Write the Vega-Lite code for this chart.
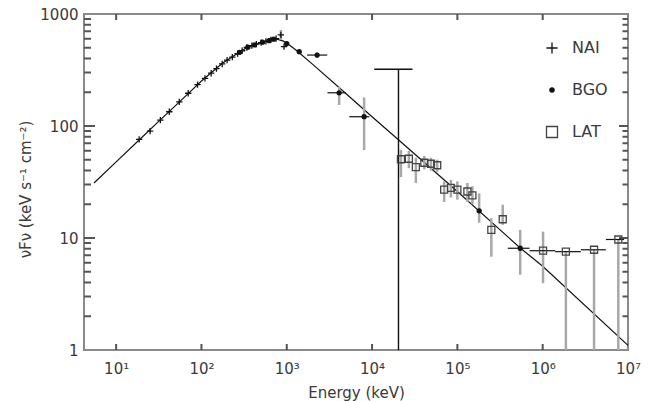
{
  "$schema": "https://vega.github.io/schema/vega-lite/v6.json",
  "width": 544,
  "height": 336,
  "autosize": {"type": "none"},
  "padding": {"left": 84, "top": 14, "right": 21, "bottom": 51},
  "config": {
    "font": "DejaVu Sans",
    "view": {"stroke": "#8a8a8a", "strokeWidth": 2},
    "axis": {"domain": false, "grid": false, "ticks": false, "labelColor": "#3a3a3a", "titleColor": "#3a3a3a", "titleFontWeight": "normal", "labelFlush": false, "labelOverlap": false},
    "legend": {"symbolSize": 121, "symbolStrokeWidth": 1.3}
  },
  "datasets": {
    "band": [
      {"E": 5.5, "F": 31}, {"E": 10, "F": 47.8}, {"E": 18.6, "F": 75}, {"E": 30, "F": 106},
      {"E": 50, "F": 153}, {"E": 75, "F": 205}, {"E": 100, "F": 252}, {"E": 176, "F": 363},
      {"E": 250, "F": 432}, {"E": 331, "F": 494}, {"E": 450, "F": 540}, {"E": 622, "F": 586},
      {"E": 750, "F": 598}, {"E": 900, "F": 575}, {"E": 1000, "F": 550}, {"E": 1280, "F": 477},
      {"E": 2000, "F": 357}, {"E": 5000, "F": 193}, {"E": 10000, "F": 121}, {"E": 19000, "F": 79},
      {"E": 100000, "F": 26}, {"E": 550000, "F": 8.1}, {"E": 1000000, "F": 5.6}, {"E": 10000000, "F": 1.1}
    ],
    "pts": [
      {"det": "NAI", "E": 18.6, "F": 76}, {"det": "NAI", "E": 25, "F": 90}, {"det": "NAI", "E": 33, "F": 113},
      {"det": "NAI", "E": 42, "F": 134}, {"det": "NAI", "E": 55, "F": 164}, {"det": "NAI", "E": 70, "F": 196},
      {"det": "NAI", "E": 90, "F": 234}, {"det": "NAI", "E": 110, "F": 266}, {"det": "NAI", "E": 130, "F": 296},
      {"det": "NAI", "E": 150, "F": 325}, {"det": "NAI", "E": 175, "F": 358}, {"det": "NAI", "E": 200, "F": 388},
      {"det": "NAI", "E": 230, "F": 412}, {"det": "NAI", "E": 265, "F": 443}, {"det": "NAI", "E": 300, "F": 470},
      {"det": "NAI", "E": 340, "F": 502}, {"det": "NAI", "E": 390, "F": 522}, {"det": "NAI", "E": 440, "F": 538},
      {"det": "NAI", "E": 500, "F": 556}, {"det": "NAI", "E": 570, "F": 570}, {"det": "NAI", "E": 650, "F": 588},
      {"det": "NAI", "E": 750, "F": 602}, {"det": "NAI", "E": 853, "F": 650, "Flo": 586, "Fhi": 720},
      {"det": "NAI", "E": 930, "F": 511},
      {"det": "BGO", "E": 280, "F": 455}, {"det": "BGO", "E": 350, "F": 505}, {"det": "BGO", "E": 420, "F": 530},
      {"det": "BGO", "E": 520, "F": 560}, {"det": "BGO", "E": 620, "F": 578}, {"det": "BGO", "E": 700, "F": 596},
      {"det": "BGO", "E": 1000, "F": 545}, {"det": "BGO", "E": 1400, "F": 461},
      {"det": "BGO", "E": 2270, "F": 430, "Elo": 1730, "Ehi": 2980, "Flo": 405, "Fhi": 455},
      {"det": "BGO", "E": 4110, "F": 198, "Elo": 3000, "Ehi": 4900, "Flo": 154, "Fhi": 224},
      {"det": "BGO", "E": 8070, "F": 121, "Elo": 5400, "Ehi": 9300, "Flo": 61, "Fhi": 180},
      {"det": "BGO", "E": 180000, "F": 17.5, "Flo": 13.7, "Fhi": 25},
      {"det": "BGO", "E": 545000, "F": 8.1, "Elo": 390000, "Ehi": 700000, "Flo": 4.7, "Fhi": 11.8},
      {"det": "LAT", "E": 21800, "F": 50.5, "Flo": 35, "Fhi": 61},
      {"det": "LAT", "E": 27000, "F": 51, "Flo": 42, "Fhi": 60},
      {"det": "LAT", "E": 32600, "F": 43, "Flo": 31, "Fhi": 52},
      {"det": "LAT", "E": 41000, "F": 47, "Flo": 41, "Fhi": 54},
      {"det": "LAT", "E": 49000, "F": 46, "Flo": 40, "Fhi": 52},
      {"det": "LAT", "E": 58000, "F": 44.6, "Flo": 39, "Fhi": 50},
      {"det": "LAT", "E": 70000, "F": 27, "Flo": 21, "Fhi": 32},
      {"det": "LAT", "E": 84000, "F": 28, "Flo": 23, "Fhi": 33},
      {"det": "LAT", "E": 100000, "F": 27, "Flo": 22, "Fhi": 32},
      {"det": "LAT", "E": 131000, "F": 26, "Flo": 21, "Fhi": 31},
      {"det": "LAT", "E": 150000, "F": 24, "Flo": 20, "Fhi": 29},
      {"det": "LAT", "E": 250000, "F": 11.8, "Flo": 6.8, "Fhi": 15},
      {"det": "LAT", "E": 340000, "F": 14.7, "Flo": 13.1, "Fhi": 19.8},
      {"det": "LAT", "E": 1010000, "F": 7.7, "Elo": 700000, "Ehi": 1400000, "Flo": 3.95, "Fhi": 11.4},
      {"det": "LAT", "E": 1870000, "F": 7.55, "Elo": 1400000, "Ehi": 2800000, "Flo": 1, "Fhi": 7.55},
      {"det": "LAT", "E": 4000000, "F": 7.85, "Elo": 2800000, "Ehi": 5500000, "Flo": 1, "Fhi": 7.85},
      {"det": "LAT", "E": 7700000, "F": 9.7, "Elo": 5500000, "Ehi": 9000000, "Flo": 1, "Fhi": 9.7}
    ],
    "limit": [
      {"E": 20400, "F": 321, "Elo": 10600, "Ehi": 29800, "Flo": 1}
    ],
    "yticks": [
      {"v": 10, "kind": "major"}, {"v": 100, "kind": "major"},
      {"v": 2, "kind": "minor"}, {"v": 3, "kind": "minor"}, {"v": 4, "kind": "minor"}, {"v": 5, "kind": "minor"},
      {"v": 6, "kind": "minor"}, {"v": 7, "kind": "minor"}, {"v": 8, "kind": "minor"}, {"v": 9, "kind": "minor"},
      {"v": 20, "kind": "minor"}, {"v": 30, "kind": "minor"}, {"v": 40, "kind": "minor"}, {"v": 50, "kind": "minor"},
      {"v": 60, "kind": "minor"}, {"v": 70, "kind": "minor"}, {"v": 80, "kind": "minor"}, {"v": 90, "kind": "minor"},
      {"v": 200, "kind": "minor"}, {"v": 300, "kind": "minor"}, {"v": 400, "kind": "minor"}, {"v": 500, "kind": "minor"},
      {"v": 600, "kind": "minor"}, {"v": 700, "kind": "minor"}, {"v": 800, "kind": "minor"}, {"v": 900, "kind": "minor"}
    ],
    "xticks": [
      {"v": 10}, {"v": 100}, {"v": 1000}, {"v": 10000}, {"v": 100000}, {"v": 1000000}
    ]
  },
  "resolve": {"axis": {"x": "independent", "y": "independent"}},
  "layer": [
    {
      "data": {"name": "yticks"},
      "transform": [{"filter": "datum.kind === 'major'"}],
      "mark": {"type": "rule", "color": "#555", "strokeWidth": 2, "strokeDash": [9, 524, 11, 0]},
      "encoding": {
        "y": {"field": "v", "type": "quantitative", "scale": {"type": "log", "domain": [1, 1000]}, "axis": null}
      }
    },
    {
      "data": {"name": "yticks"},
      "transform": [{"filter": "datum.kind === 'minor'"}],
      "mark": {"type": "rule", "color": "#555", "strokeWidth": 2, "strokeDash": [5.5, 531.5, 7, 0]},
      "encoding": {
        "y": {"field": "v", "type": "quantitative", "scale": {"type": "log", "domain": [1, 1000]}, "axis": null}
      }
    },
    {
      "data": {"name": "xticks"},
      "mark": {"type": "rule", "color": "#555", "strokeWidth": 2, "strokeDash": [6, 324, 6, 0]},
      "encoding": {
        "x": {"field": "v", "type": "quantitative", "scale": {"type": "log", "domain": [4.2, 10000000]}, "axis": null}
      }
    },
    {
      "data": {"name": "band"},
      "mark": {"type": "line", "color": "#111", "strokeWidth": 1.2},
      "encoding": {
        "x": {
          "field": "E", "type": "quantitative",
          "scale": {"type": "log", "domain": [4.2, 10000000]},
          "axis": {
            "orient": "bottom", "values": [10, 100, 1000, 10000, 100000, 1000000, 10000000],
            "labelExpr": "'10' + ['¹','²','³','⁴','⁵','⁶','⁷'][round(log(datum.value)/LN10)-1]",
            "labelFontSize": 15, "labelPadding": 11,
            "title": "Energy (keV)", "titleFontSize": 15, "titleBaseline": "middle", "titleY": 42
          }
        },
        "y": {
          "field": "F", "type": "quantitative",
          "scale": {"type": "log", "domain": [1, 1000]},
          "axis": {
            "orient": "left", "values": [1, 10, 100, 1000],
            "labelExpr": "format(datum.value, 'd')",
            "labelFontSize": 15, "labelPadding": 6,
            "title": "νFν (keV s⁻¹ cm⁻²)", "titleFontSize": 15, "titleAngle": -90,
            "titleBaseline": "middle", "titleAlign": "center", "titleX": -59, "titleY": 175
          }
        }
      }
    },
    {
      "data": {"name": "pts"},
      "transform": [{"filter": "isValid(datum.Flo)"}],
      "mark": {"type": "rule", "color": "#a8a8a8", "strokeWidth": 2.5},
      "encoding": {
        "x": {"field": "E", "type": "quantitative", "scale": {"type": "log", "domain": [4.2, 10000000]}, "axis": null},
        "y": {"field": "Flo", "type": "quantitative", "scale": {"type": "log", "domain": [1, 1000]}, "axis": null},
        "y2": {"field": "Fhi"}
      }
    },
    {
      "data": {"name": "pts"},
      "transform": [{"filter": "isValid(datum.Elo)"}],
      "mark": {"type": "rule", "color": "#111", "strokeWidth": 1.2},
      "encoding": {
        "x": {"field": "Elo", "type": "quantitative", "scale": {"type": "log", "domain": [4.2, 10000000]}, "axis": null},
        "x2": {"field": "Ehi"},
        "y": {"field": "F", "type": "quantitative", "scale": {"type": "log", "domain": [1, 1000]}, "axis": null}
      }
    },
    {
      "data": {"name": "limit"},
      "mark": {"type": "rule", "color": "#111", "strokeWidth": 1.4},
      "encoding": {
        "x": {"field": "Elo", "type": "quantitative", "scale": {"type": "log", "domain": [4.2, 10000000]}, "axis": null},
        "x2": {"field": "Ehi"},
        "y": {"field": "F", "type": "quantitative", "scale": {"type": "log", "domain": [1, 1000]}, "axis": null}
      }
    },
    {
      "data": {"name": "limit"},
      "mark": {"type": "rule", "color": "#111", "strokeWidth": 1.4},
      "encoding": {
        "x": {"field": "E", "type": "quantitative", "scale": {"type": "log", "domain": [4.2, 10000000]}, "axis": null},
        "y": {"field": "Flo", "type": "quantitative", "scale": {"type": "log", "domain": [1, 1000]}, "axis": null},
        "y2": {"field": "F"}
      }
    },
    {
      "data": {"name": "pts"},
      "transform": [{"filter": "datum.det === 'NAI'"}],
      "mark": {"type": "point", "strokeWidth": 1.3, "opacity": 1, "size": 40},
      "encoding": {
        "x": {"field": "E", "type": "quantitative", "scale": {"type": "log", "domain": [4.2, 10000000]}, "axis": null},
        "y": {"field": "F", "type": "quantitative", "scale": {"type": "log", "domain": [1, 1000]}, "axis": null},
        "shape": {
          "field": "det", "type": "nominal",
          "scale": {"domain": ["NAI", "BGO", "LAT"], "range": ["M-1,0H1M0,-1V1", "M-0.38,0A0.38,0.38 0 1,0 0.38,0A0.38,0.38 0 1,0 -0.38,0Z", "square"]},
          "legend": {
            "orient": "none", "legendX": 460, "legendY": 26, "title": null, "padding": 0,
            "labelFontSize": 16, "labelColor": "#3a3a3a", "labelOffset": 12, "rowPadding": 25
          }
        },
        "fill": {"field": "det", "type": "nominal", "scale": {"domain": ["NAI", "BGO", "LAT"], "range": ["transparent", "#111", "transparent"]}},
        "stroke": {"field": "det", "type": "nominal", "scale": {"domain": ["NAI", "BGO", "LAT"], "range": ["#111", "#111", "#444"]}}
      }
    },
    {
      "data": {"name": "pts"},
      "transform": [{"filter": "datum.det === 'BGO'"}],
      "mark": {"type": "point", "strokeWidth": 1.3, "opacity": 1, "size": 110},
      "encoding": {
        "x": {"field": "E", "type": "quantitative", "scale": {"type": "log", "domain": [4.2, 10000000]}, "axis": null},
        "y": {"field": "F", "type": "quantitative", "scale": {"type": "log", "domain": [1, 1000]}, "axis": null},
        "shape": {"field": "det", "type": "nominal"},
        "fill": {"field": "det", "type": "nominal"},
        "stroke": {"field": "det", "type": "nominal"}
      }
    },
    {
      "data": {"name": "pts"},
      "transform": [{"filter": "datum.det === 'LAT'"}],
      "mark": {"type": "point", "strokeWidth": 1.3, "opacity": 1, "size": 49},
      "encoding": {
        "x": {"field": "E", "type": "quantitative", "scale": {"type": "log", "domain": [4.2, 10000000]}, "axis": null},
        "y": {"field": "F", "type": "quantitative", "scale": {"type": "log", "domain": [1, 1000]}, "axis": null},
        "shape": {"field": "det", "type": "nominal"},
        "fill": {"field": "det", "type": "nominal"},
        "stroke": {"field": "det", "type": "nominal"}
      }
    }
  ]
}
